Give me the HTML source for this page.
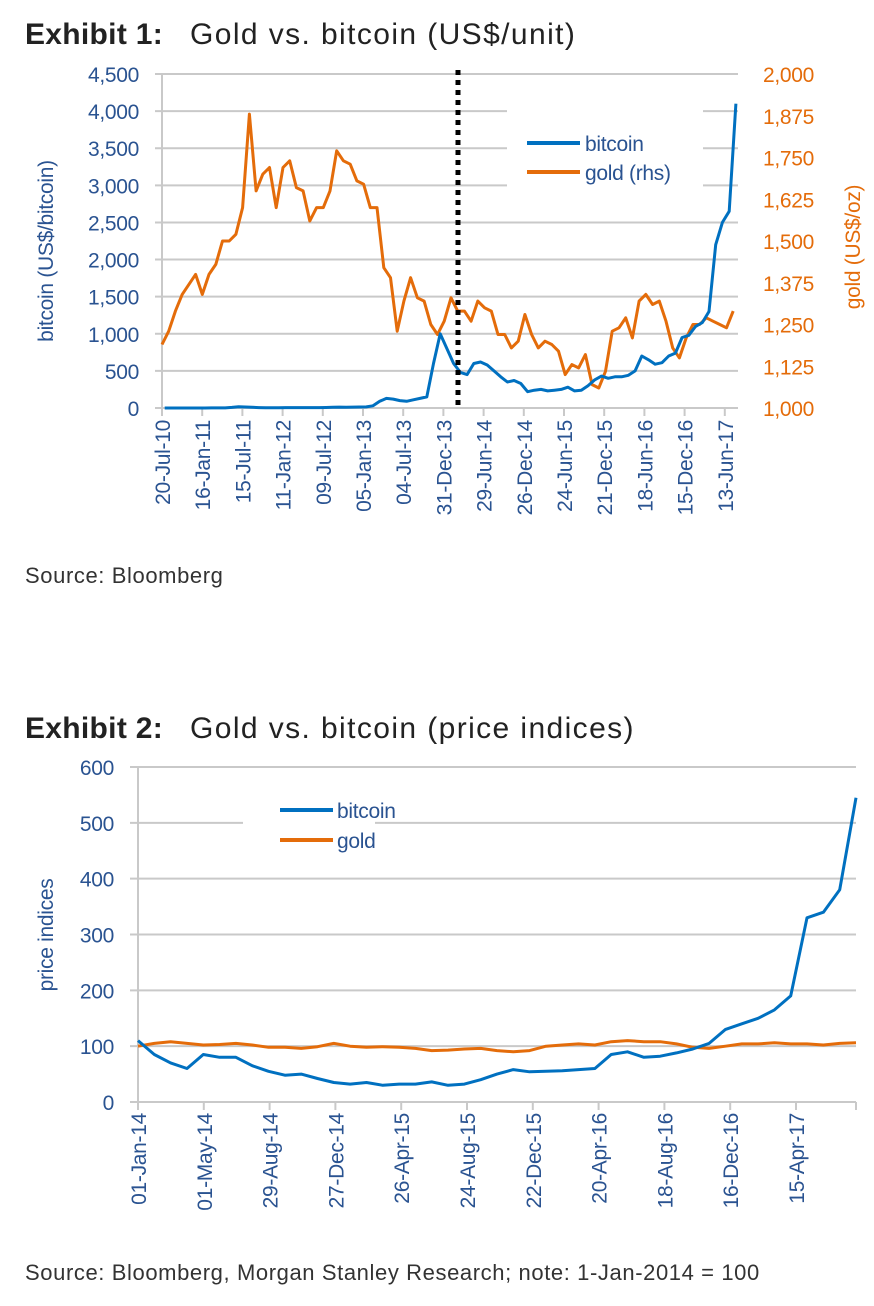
<!DOCTYPE html>
<html><head><meta charset="utf-8"><style>
body{margin:0;background:#fff;width:874px;height:1306px;overflow:hidden;font-family:"Liberation Sans",sans-serif}
svg{position:absolute;left:0;top:0}
.t{font-size:21px;fill:#2a5391;letter-spacing:-0.3px}
.o{fill:#e46c0a}
.src{font-size:22px;fill:#333;letter-spacing:0.6px}
.title{font-size:30px;fill:#222;letter-spacing:0.3px}
</style></head><body>
<svg id="s" width="874" height="1306"></svg>
<script>
// Exhibit 1 data (monthly from Jul-2010)
const gold1=[1190,1230,1290,1340,1370,1400,1340,1400,1430,1500,1500,1520,1600,1880,1650,1700,1720,1600,1720,1740,1660,1650,1560,1600,1600,1650,1770,1740,1730,1680,1670,1600,1600,1420,1390,1230,1320,1390,1330,1320,1250,1220,1260,1330,1290,1290,1260,1320,1300,1290,1220,1220,1180,1200,1280,1220,1180,1200,1190,1170,1100,1130,1120,1160,1070,1060,1110,1230,1240,1270,1210,1320,1340,1310,1320,1260,1180,1150,1210,1250,1250,1270,1260,1250,1240,1290];
const btc1=[0,0,0,0,0,0,0,1,1,1,8,18,14,10,5,3,3,3,5,5,5,5,5,6,7,10,12,11,12,13,15,30,90,130,120,100,90,110,130,150,600,1000,800,600,480,450,600,620,580,500,420,350,370,330,220,240,250,230,240,250,280,230,240,300,380,430,400,420,420,440,500,700,650,590,610,700,740,950,980,1100,1150,1300,2200,2500,2650,4100];
const yTicks1=[0,500,1000,1500,2000,2500,3000,3500,4000,4500];
const yTicksR=["1,000","1,125","1,250","1,375","1,500","1,625","1,750","1,875","2,000"];
const xLabels1=["20-Jul-10","16-Jan-11","15-Jul-11","11-Jan-12","09-Jul-12","05-Jan-13","04-Jul-13","31-Dec-13","29-Jun-14","26-Dec-14","24-Jun-15","21-Dec-15","18-Jun-16","15-Dec-16","13-Jun-17"];
// Exhibit 2 data (monthly from Jan-2014)
const btc2=[110,85,70,60,85,80,80,65,55,48,50,42,35,32,35,30,32,32,36,30,32,40,50,58,54,55,56,58,60,85,90,80,82,88,95,105,130,140,150,165,190,330,340,380,545];
const gold2=[100,105,108,105,102,103,105,102,98,98,96,99,105,100,98,99,98,96,92,93,95,96,92,90,92,100,102,104,102,108,110,108,108,104,98,96,100,104,104,106,104,104,102,105,106];
const yTicks2=[0,100,200,300,400,500,600];
const xLabels2=["01-Jan-14","01-May-14","29-Aug-14","27-Dec-14","26-Apr-15","24-Aug-15","22-Dec-15","20-Apr-16","18-Aug-16","16-Dec-16","15-Apr-17"];

const S=document.getElementById('s');const NS='http://www.w3.org/2000/svg';
function mk(tag,at,txt){const e=document.createElementNS(NS,tag);for(const k in at)e.setAttribute(k,at[k]);if(txt!=null)e.textContent=txt;S.appendChild(e);return e;}
function line(x1,y1,x2,y2,c,w,n){const e=mk('line',{x1,y1,x2,y2,stroke:c,'stroke-width':w});

return e;}
function text(x,y,t,cls,anchor,n,extra){const e=mk('text',Object.assign({x,y,class:cls,'text-anchor':anchor||'start'},extra||{}),t);

return e;}
function path(pts,c,n){const e=mk('path',{d:'M'+pts.map(p=>p[0].toFixed(1)+','+p[1].toFixed(1)).join('L'),fill:'none',stroke:c,'stroke-width':3,'stroke-linejoin':'round'});

return e;}

// Titles
let t=text(25,44,'','title','start','exhibit-1-title');t.innerHTML='<tspan font-weight="bold">Exhibit 1:</tspan><tspan x="190" letter-spacing="1.4">Gold vs. bitcoin (US$/unit)</tspan>';
t=text(25,738,'','title','start','exhibit-2-title');t.innerHTML='<tspan font-weight="bold">Exhibit 2:</tspan><tspan x="190" letter-spacing="1.4">Gold vs. bitcoin (price indices)</tspan>';

// ---- Chart 1 ----
const L1=162,R1=738,T1=74,B1=408;
const y1=v=>B1-(v/4500)*(B1-T1);
const yg=v=>B1-((v-1000)/1000)*(B1-T1);
const x1=i=>L1+i*6.72;
yTicks1.forEach(v=>{line(155,y1(v),R1,y1(v),'#c9c9c9',2,'gridline');
text(139,y1(v)+8,v.toLocaleString('en-US'),'t','end','y-tick-label');});
yTicksR.forEach((s,i)=>text(763,B1-i*(B1-T1)/8+8,s,'t o','start','y-right-tick-label'));
line(L1,T1,L1,B1+8,'#c9c9c9',2,'y-axis-line');
xLabels1.forEach((s,i)=>{const x=L1+i*40.2;line(x,B1,x,B1+8,'#c9c9c9',2,'x-tick');
text(0,0,s,'t','end','x-tick-label',{transform:`translate(${x+8},420) rotate(-90)`});});
text(0,0,'bitcoin (US$/bitcoin)','t','middle','y-axis-title',{transform:'translate(53,251) rotate(-90)'});
text(0,0,'gold (US$/oz)','t o','middle','y-right-axis-title',{transform:'translate(860,247) rotate(-90)'});
let r=mk('rect',{x:507,y:100,width:196,height:102,fill:'#fff'});
path(gold1.map((v,i)=>[x1(i),yg(v)]),'#e46c0a','gold-line');
path(btc1.map((v,i)=>[x1(i+0.4),y1(v)]),'#0070c0','bitcoin-line');
let d=line(458,70,458,408,'#000',5,'divider-dotted-line');d.setAttribute('stroke-dasharray','5 5');
line(527,143,580,143,'#0070c0',4,'legend-bitcoin-swatch');text(585,151,'bitcoin','t','start','legend-bitcoin-label');
line(527,172,580,172,'#e46c0a',4,'legend-gold-swatch');text(585,180,'gold (rhs)','t','start','legend-gold-label');
text(25,583,'Source: Bloomberg','src','start','source-note-1');

// ---- Chart 2 ----
const L2=138,R2=856,T2=767,B2=1102;
const y2=v=>B2-(v/600)*(B2-T2);
const x2=i=>L2+i*(R2-L2)/(btc2.length-1);
yTicks2.forEach(v=>{line(130,y2(v),R2,y2(v),'#c9c9c9',2,'gridline');
text(114,y2(v)+8,String(v),'t','end','y-tick-label');});
line(L2,T2,L2,B2+8,'#c9c9c9',2,'y-axis-line');
xLabels2.forEach((s,i)=>{const x=L2+i*65.8;line(x,B2,x,B2+8,'#c9c9c9',2,'x-tick');
text(0,0,s,'t','end','x-tick-label',{transform:`translate(${x+8},1113) rotate(-90)`});});
line(R2,B2,R2,B2+8,'#c9c9c9',2,'x-tick');
text(0,0,'price indices','t','middle','y-axis-title',{transform:'translate(53,935) rotate(-90)'});
r=mk('rect',{x:243,y:785,width:132,height:75,fill:'#fff'});
path(gold2.map((v,i)=>[x2(i),y2(v)]),'#e46c0a','gold-index-line');
path(btc2.map((v,i)=>[x2(i),y2(v)]),'#0070c0','bitcoin-index-line');
line(280,810,333,810,'#0070c0',4,'legend-bitcoin-swatch');text(337,818,'bitcoin','t','start','legend-bitcoin-label');
line(280,840,333,840,'#e46c0a',4,'legend-gold-swatch');text(337,848,'gold','t','start','legend-gold-label');
text(25,1280,'Source: Bloomberg, Morgan Stanley Research; note: 1-Jan-2014 = 100','src','start','source-note-2');
</script>
</body></html>
